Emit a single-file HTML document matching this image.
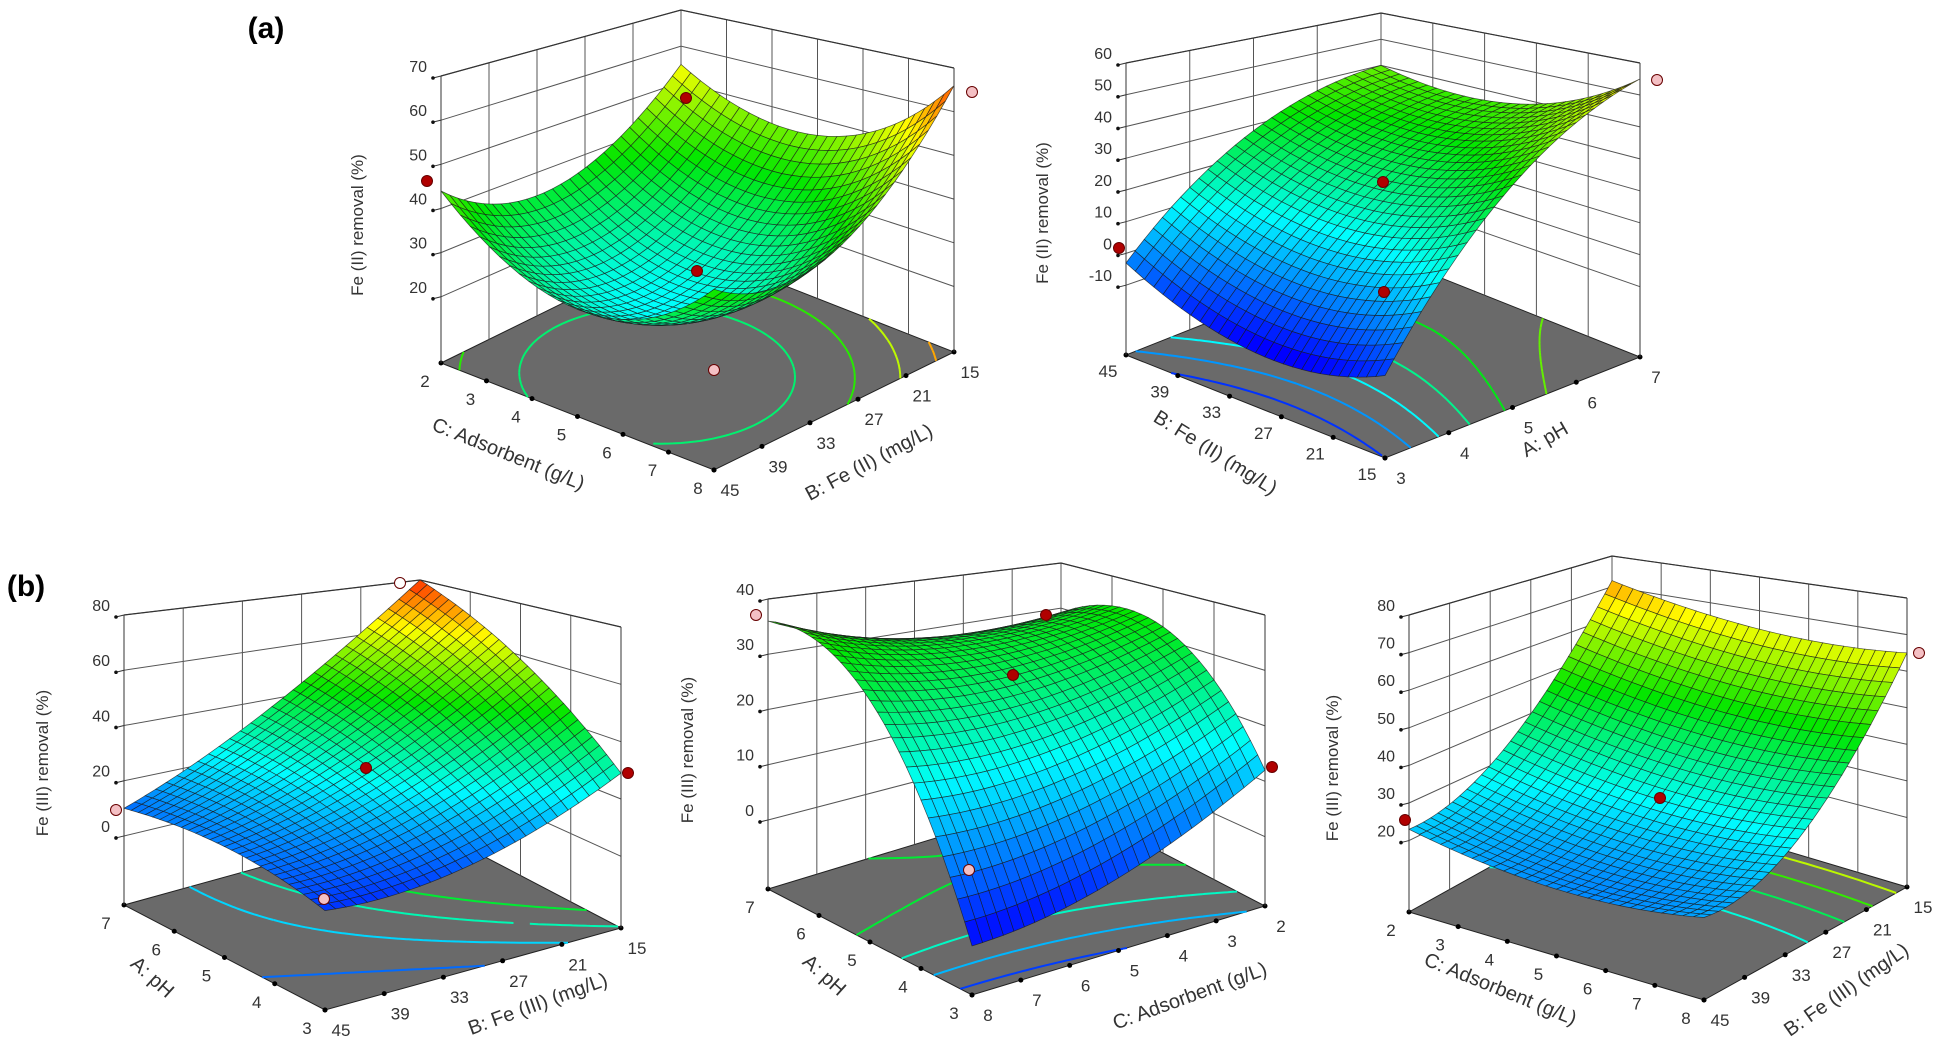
<!DOCTYPE html>
<html><head><meta charset="utf-8"><style>
html,body{margin:0;padding:0;background:#fff;}
svg{display:block;}
text{font-family:"Liberation Sans",sans-serif;fill:#333;}
</style></head><body>
<svg id="s" width="1942" height="1042" viewBox="0 0 1942 1042" xmlns="http://www.w3.org/2000/svg">
<text x="266" y="38" font-size="30" font-weight="bold" text-anchor="middle" style="fill:#000">(a)</text>
<text x="26" y="596" font-size="30" font-weight="bold" text-anchor="middle" style="fill:#000">(b)</text>
</svg>
<script>
var S=document.getElementById('s');var NS='http://www.w3.org/2000/svg';
function el(t,a,p){var e=document.createElementNS(NS,t);for(var k in a)e.setAttribute(k,a[k]);(p||S).appendChild(e);return e;}
function cmap(t){t=Math.max(0,Math.min(1,t));
 var st=[[0,0,0,255],[0.3,0,255,255],[0.55,0,230,0],[0.8,255,255,0],[1,255,40,0]];
 for(var i=1;i<st.length;i++){if(t<=st[i][0]){var a=st[i-1],b=st[i],k=(t-a[0])/(b[0]-a[0]);
 return 'rgb('+Math.round(a[1]+(b[1]-a[1])*k)+','+Math.round(a[2]+(b[2]-a[2])*k)+','+Math.round(a[3]+(b[3]-a[3])*k)+')';}}return 'rgb(255,40,0)';}
function plot(c){
 var L=c.L,F=c.F,R=c.R,K=[L[0]+R[0]-F[0],L[1]+R[1]-F[1]];
 function fl(a,b){var x=(1-a)*(1-b)*L[0]+a*(1-b)*F[0]+a*b*R[0]+(1-a)*b*K[0];
  var y=(1-a)*(1-b)*L[1]+a*(1-b)*F[1]+a*b*R[1]+(1-a)*b*K[1];
  var h=(1-a)*(1-b)*c.h[0]+a*(1-b)*c.h[1]+a*b*c.h[2]+(1-a)*b*c.h[3];return [x,y,h];}
 function P(a,b,z){var q=fl(a,b);return [q[0],q[1]-(z-c.z0)/(c.z1-c.z0)*q[2]];}
 function fz(a,b){var s=2*a-1,w=2*b-1,k=c.k;return k[0]+k[1]*s+k[2]*w+k[3]*s*w+k[4]*s*s+k[5]*w*w;}
 function pt(p){return p[0].toFixed(1)+','+p[1].toFixed(1);}
 var g=el('g',{});
 el('polygon',{points:[L,F,R,K].map(pt).join(' '),fill:'#6a6a6a',stroke:'#222','stroke-width':1},g);
 var gs={stroke:'#555','stroke-width':1,fill:'none'};
 c.zt.forEach(function(z){el('polyline',Object.assign({points:[P(0,0,z),P(0,1,z),P(1,1,z)].map(pt).join(' ')},gs),g);
  var p=P(0,0,z);el('line',{x1:p[0]-8,y1:p[1]+2,x2:p[0],y2:p[1],stroke:'#333'},g);
  el('circle',{cx:p[0]-8,cy:p[1]+2,r:1.8,fill:'#111'},g);
  var t=el('text',{x:p[0]-14,y:p[1]-4,'font-size':16,'text-anchor':'end'},g);t.textContent=z;});
 var nu=c.u.length-1,nv=c.v.length-1;
 for(var i=0;i<=nv;i++){var b=i/nv;el('line',Object.assign({x1:P(0,b,c.z0)[0],y1:P(0,b,c.z0)[1],x2:P(0,b,c.z1)[0],y2:P(0,b,c.z1)[1]},gs),g);}
 for(var i=0;i<=nu;i++){var a=i/nu;el('line',Object.assign({x1:P(a,1,c.z0)[0],y1:P(a,1,c.z0)[1],x2:P(a,1,c.z1)[0],y2:P(a,1,c.z1)[1]},gs),g);}
 el('polyline',{points:[P(0,0,c.z1),P(0,1,c.z1),P(1,1,c.z1)].map(pt).join(' '),stroke:'#333',fill:'none','stroke-width':1.2},g);
 var N=60;
 c.lev.forEach(function(lv){var col=cmap((lv-c.c0)/(c.c1-c.c0));var d='';
  for(var i=0;i<N;i++)for(var j=0;j<N;j++){var a0=i/N,a1=(i+1)/N,b0=j/N,b1=(j+1)/N;
   var v=[fz(a0,b0),fz(a1,b0),fz(a1,b1),fz(a0,b1)],q=[[a0,b0],[a1,b0],[a1,b1],[a0,b1]];var pts=[];
   for(var e=0;e<4;e++){var m=(e+1)%4;if((v[e]-lv)*(v[m]-lv)<0){var t=(lv-v[e])/(v[m]-v[e]);
     pts.push(fl(q[e][0]+(q[m][0]-q[e][0])*t,q[e][1]+(q[m][1]-q[e][1])*t));}}
   if(pts.length>=2)d+='M'+pts[0][0].toFixed(1)+' '+pts[0][1].toFixed(1)+'L'+pts[1][0].toFixed(1)+' '+pts[1][1].toFixed(1);}
  el('path',{d:d,stroke:col,'stroke-width':2,fill:'none'},g);});
 for(var i=0;i<=nu;i++){var a=i/nu,p=fl(a,0);el('circle',{cx:p[0],cy:p[1],r:2.5,fill:'#000'},g);
  var t=el('text',{x:p[0]+c.uo[0],y:p[1]+c.uo[1],'font-size':17,'text-anchor':'middle'},g);t.textContent=c.u[i];}
 for(var i=0;i<=nv;i++){var b=i/nv,p=fl(1,b);el('circle',{cx:p[0],cy:p[1],r:2.5,fill:'#000'},g);
  var t=el('text',{x:p[0]+c.vo[0],y:p[1]+c.vo[1],'font-size':17,'text-anchor':'middle'},g);t.textContent=c.v[i];}
 var M=28,qs=[];
 for(var i=0;i<M;i++)for(var j=0;j<M;j++)qs.push([i,j,(i+0.5)/M+1-(j+0.5)/M]);
 qs.sort(function(x,y){return x[2]-y[2];});
 var sg=el('g',{},g);
 qs.forEach(function(q){var a0=q[0]/M,a1=(q[0]+1)/M,b0=q[1]/M,b1=(q[1]+1)/M;
  var z=fz((a0+a1)/2,(b0+b1)/2);
  el('polygon',{points:[P(a0,b0,fz(a0,b0)),P(a1,b0,fz(a1,b0)),P(a1,b1,fz(a1,b1)),P(a0,b1,fz(a0,b1))].map(pt).join(' '),
   fill:cmap((z-c.c0)/(c.c1-c.c0)),stroke:'#1a1a1a','stroke-width':0.7,'stroke-opacity':0.75},sg);});
 [[0,0],[1,1]].forEach(function(q){var p0=P(q[0],q[1],c.z0),p1=P(q[0],q[1],c.z1);el('line',{x1:p0[0],y1:p0[1],x2:p1[0],y2:p1[1],stroke:'#333','stroke-width':1},g);});
 var t=el('text',{x:0,y:0,'font-size':17,'text-anchor':'middle',transform:'translate('+c.zT[0]+','+c.zT[1]+') rotate(-90)'},g);t.textContent=c.zTitle;
 t=el('text',{x:0,y:0,'font-size':20,'text-anchor':'middle',transform:'translate('+c.uT[0]+','+c.uT[1]+') rotate('+c.uT[2]+')'},g);t.textContent=c.uTitle;
 t=el('text',{x:0,y:0,'font-size':20,'text-anchor':'middle',transform:'translate('+c.vT[0]+','+c.vT[1]+') rotate('+c.vT[2]+')'},g);t.textContent=c.vTitle;
 (c.dots||[]).forEach(function(d){el('circle',{cx:d[0],cy:d[1],r:5.5,fill:d[2],stroke:'#600','stroke-width':1},g);});
}
var RD='#b00000',PK='#f4c0c4';
plot({L:[441,363],F:[714,470],R:[954,352],h:[287,336,284,235],z0:5,z1:70,zt:[20,30,40,50,60,70],
 k:[22,1.75,9.25,3.75,14.6,14.6],c0:0,c1:68,lev:[20,30,40,50,60],
 u:['2','3','4','5','6','7','8'],v:['45','39','33','27','21','15'],uo:[-16,24],vo:[16,26],
 zTitle:'Fe (II) removal (%)',zT:[363,225],uTitle:'C: Adsorbent  (g/L)',uT:[506,460,22],vTitle:'B: Fe (II) (mg/L)',vT:[872,468,-28],
 dots:[[427,181,RD],[686,98,RD],[697,271,RD],[972,92,PK],[714,370,PK]]});
plot({L:[1126,355],F:[1385,458],R:[1640,357],h:[292,345,294,241],z0:-32,z1:60,zt:[-10,0,10,20,30,40,50,60],
 k:[20,2,27,5.5,10,-9.5],c0:-15,c1:70,lev:[-10,0,10,20,30,40],
 u:['45','39','33','27','21','15'],v:['3','4','5','6','7'],uo:[-18,22],vo:[16,26],
 zTitle:'Fe (II) removal (%)',zT:[1048,213],uTitle:'B: Fe (II) (mg/L)',uT:[1212,458,32],vTitle:'A: pH',vT:[1548,445,-30],
 dots:[[1119,248,RD],[1383,182,RD],[1384,292,RD],[1657,80,PK]]});
plot({L:[124,905],F:[325,1010],R:[621,928],h:[290,348,301,243],z0:-25,z1:80,zt:[0,20,40,60,80],
 k:[27,-14,23.5,-11.5,-4,8],c0:0,c1:80,lev:[0,10,20,30,40],
 u:['7','6','5','4','3'],v:['45','39','33','27','21','15'],uo:[-18,24],vo:[16,26],
 zTitle:'Fe (III) removal (%)',zT:[48,763],uTitle:'A: pH',uT:[148,982,42],vTitle:'B: Fe (III) (mg/L)',vT:[540,1010,-20],
 dots:[[116,810,PK],[366,768,RD],[628,773,RD],[324,899,PK],[400,583,'#fff']]});
plot({L:[768,889],F:[972,995],R:[1265,906],h:[290,344,291,237],z0:-12.5,z1:40,zt:[0,10,20,30,40],
 k:[26,-14.5,2.5,6,-12,4],c0:-5,c1:65,lev:[0,10,20,30],
 u:['7','6','5','4','3'],v:['8','7','6','5','4','3','2'],uo:[-18,24],vo:[16,26],
 zTitle:'Fe (III) removal (%)',zT:[693,750],uTitle:'A: pH',uT:[820,980,42],vTitle:'C: Adsorbent  (g/L)',vT:[1192,1002,-20],
 dots:[[756,615,PK],[1046,615,RD],[1013,675,RD],[1272,767,RD],[969,870,PK]]});
plot({L:[1409,912],F:[1704,1000],R:[1907,887],h:[297,343,289,243],z0:1,z1:80,zt:[20,30,40,50,60,70,80],
 k:[28,-2.5,23.5,-1,4,13],c0:5,c1:80,lev:[30,40,50,60,70],
 u:['2','3','4','5','6','7','8'],v:['45','39','33','27','21','15'],uo:[-18,24],vo:[16,26],
 zTitle:'Fe (III) removal (%)',zT:[1338,768],uTitle:'C: Adsorbent  (g/L)',uT:[1498,995,22],vTitle:'B: Fe (III) (mg/L)',vT:[1850,995,-35],
 dots:[[1405,820,RD],[1660,798,RD],[1919,653,PK]]});
</script>
</body></html>
